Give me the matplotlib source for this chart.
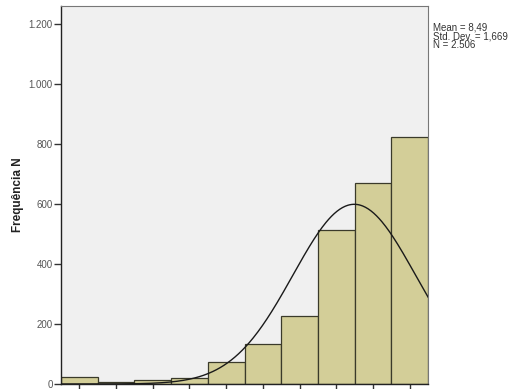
import numpy as np
import matplotlib
matplotlib.use("Agg")
import matplotlib.pyplot as plt
from matplotlib.ticker import FuncFormatter

plt.rcParams['font.family'] = ['Liberation Sans', 'DejaVu Sans']

# Score categories and their frequencies
scores = [1, 2, 3, 4, 5, 6, 7, 8, 9, 10]
counts = [23, 6, 13, 21, 73, 133, 228, 512, 669, 822]

# Summary statistics shown beside the chart
mean_value = 8.49
std_dev = 1.669
n_total = 2506
stats_lines = ["Mean = 8,49", "Std. Dev. = 1,669", "N = 2.506"]

y_ticks = [0, 200, 400, 600, 800, 1000, 1200]
y_label = "Frequência N"

fig = plt.figure(figsize=(5.12, 3.89), dpi=100)
fig.patch.set_facecolor("white")
ax = fig.add_axes([61 / 512, 5 / 389, (428 - 61) / 512, (384 - 6) / 389])
ax.set_facecolor("#F0F0F0")

ax.bar(scores, counts, width=1.0, color="#D3CE98", edgecolor="#3a3a2a",
       linewidth=0.9, zorder=2)

# Normal curve scaled to the histogram (bin width 1)
xs = np.linspace(0.5, 10.5, 400)
pdf = np.exp(-0.5 * ((xs - mean_value) / std_dev) ** 2) / (std_dev * np.sqrt(2 * np.pi))
ax.plot(xs, n_total * pdf, color="#1a1a1a", linewidth=1.0, zorder=3)

ax.set_xlim(0.5, 10.5)
ax.set_ylim(0, 1260)
ax.set_xticks(scores)
ax.set_xticklabels([])
ax.set_yticks(y_ticks)
ax.yaxis.set_major_formatter(FuncFormatter(lambda v, p: f"{int(v):,}".replace(",", ".")))
ax.tick_params(axis="y", length=5, width=1.0, color="#333333", labelsize=7,
               labelcolor="#555555", pad=1)
ax.tick_params(axis="x", length=6, width=1.0, color="#333333")

for side in ("left", "bottom"):
    ax.spines[side].set_color("#222222")
    ax.spines[side].set_linewidth(1.0)
for side in ("top", "right"):
    ax.spines[side].set_color("#777777")
    ax.spines[side].set_linewidth(0.8)

fig.text(18 / 512, 1 - 195 / 389, y_label, rotation=90, fontsize=8.5,
         fontweight="bold", color="#222222", ha="center", va="center")

for i, line in enumerate(stats_lines):
    fig.text(433 / 512, 1 - (28 + 8.5 * i) / 389, line, fontsize=7,
             color="#333333", ha="left", va="center")

fig.savefig("out.png", dpi=100)
